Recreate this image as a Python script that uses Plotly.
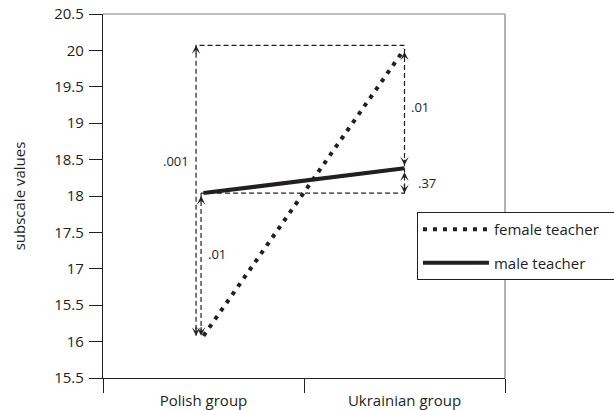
import plotly.graph_objects as go

# ---- data ----
categories = ["Polish group", "Ukrainian group"]
female_teacher = [16.08, 20.02]
male_teacher = [18.04, 18.38]
y_tick_values = [15.5, 16, 16.5, 17, 17.5, 18, 18.5, 19, 19.5, 20, 20.5]
y_tick_labels = ["15.5", "16", "15.5", "17", "17.5", "18", "18.5", "19", "19.5", "20", "20.5"]
p_labels = [".001", ".01", ".01", ".37"]

# ---- layout / bracket positions (styling, not data) ----
x_idx = list(range(len(categories)))
outer_left = -0.037
inner_left = -0.012
bracket_top = 20.07
INK = "#231f20"
FONT = "Open Sans, Noto Sans, sans-serif"

fig = go.Figure()

dash_style = dict(color=INK, width=1.2, dash="5px,3px")
brackets = [
    ([x_idx[1], outer_left, outer_left], [bracket_top, bracket_top, female_teacher[0]]),
    ([inner_left, inner_left], [male_teacher[0], female_teacher[0]]),
    ([inner_left, x_idx[1], x_idx[1]], [male_teacher[0], male_teacher[0], male_teacher[1]]),
    ([x_idx[1], x_idx[1]], [female_teacher[1], male_teacher[1]]),
]
for bx, by in brackets:
    fig.add_trace(go.Scatter(x=bx, y=by, mode="lines", line=dash_style,
                             showlegend=False, hoverinfo="skip"))

PAD = "\u00a0" * 3
fig.add_trace(go.Scatter(x=x_idx, y=female_teacher, mode="lines", name="female teacher" + PAD,
                         line=dict(color=INK, width=4, dash="4px,6px"), legendgroup="f"))
fig.add_trace(go.Scatter(x=x_idx, y=male_teacher, mode="lines", name="male teacher",
                         line=dict(color=INK, width=4), legendgroup="m"))

# arrowheads: (x, y, direction, standoff)
arrows = [
    (outer_left, bracket_top, "up", 0),
    (outer_left, female_teacher[0], "down", 0),
    (inner_left, male_teacher[0], "up", 3),
    (inner_left, female_teacher[0], "down", 0),
    (x_idx[1], female_teacher[1], "up", 3),
    (x_idx[1], male_teacher[1], "down", 3),
    (x_idx[1], male_teacher[1], "up", 4),
    (x_idx[1], male_teacher[0], "down", 0),
]
for ax_, ay_, d, so in arrows:
    fig.add_annotation(x=ax_, y=ay_, xref="x", yref="y", text="", showarrow=True,
                       arrowhead=3, arrowsize=1.2, arrowwidth=1.2, arrowcolor=INK,
                       ax=0, ay=(10 if d == "up" else -10), standoff=so)

# p-value labels
label_pos = [
    (-0.062, 18.48, "right"),
    (0.012, 17.2, "left"),
    (1.02, 19.22, "left"),
    (1.057, 18.18, "left"),
]
for (lx, ly, anc), txt in zip(label_pos, p_labels):
    fig.add_annotation(x=lx, y=ly, xref="x", yref="y", text=txt, showarrow=False,
                       xanchor=anc, yanchor="middle",
                       font=dict(family=FONT, size=13, color=INK))

# top/right frame in gray
fig.add_shape(type="line", xref="paper", yref="paper", x0=0, x1=1, y0=1, y1=1,
              line=dict(color="#808080", width=1.2), layer="above")
fig.add_shape(type="line", xref="paper", yref="paper", x0=1, x1=1, y0=0, y1=1,
              line=dict(color="#808080", width=1.2), layer="above")

fig.update_layout(
    width=614, height=410,
    margin=dict(l=103, r=109, t=14, b=32, autoexpand=False),
    paper_bgcolor="white", plot_bgcolor="white",
    font=dict(family=FONT, size=15, color=INK),
    showlegend=True,
    legend=dict(x=0.781, y=0.456, xanchor="left", yanchor="top",
                bordercolor=INK, borderwidth=1, bgcolor="white",
                font=dict(family=FONT, size=15, color=INK),
                tracegroupgap=11, itemwidth=66),
    xaxis=dict(range=[-0.5, 1.5], tickmode="array", tickvals=x_idx, ticktext=categories,
               ticks="", showgrid=False, zeroline=False, showline=True,
               linecolor=INK, linewidth=1.2, ticklabelstandoff=9,
               tickfont=dict(family=FONT, size=15, color=INK),
               minor=dict(tickmode="array", tickvals=[-0.5, 0.5, 1.5], ticks="outside",
                          ticklen=14, tickcolor=INK, tickwidth=1.2, showgrid=False)),
    yaxis=dict(range=[15.5, 20.5], tickmode="array", tickvals=y_tick_values,
               ticktext=y_tick_labels, ticks="outside", ticklen=13, tickcolor=INK,
               tickwidth=1.2, showgrid=False, zeroline=False, showline=True,
               linecolor=INK, linewidth=1.2, ticklabelstandoff=2,
               ticklabeloverflow="allow",
               tickfont=dict(family=FONT, size=15, color=INK),
               title=dict(text="subscale values", standoff=24,
                          font=dict(family=FONT, size=15, color=INK))),
)

fig.write_html(
    "out.html",
    config={"displayModeBar": False},
    post_script="document.body.style.margin='0';document.body.style.overflow='hidden';",
)
